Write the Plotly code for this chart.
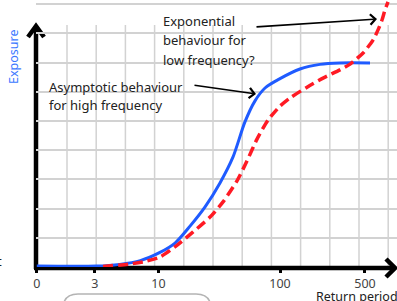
import plotly.graph_objects as go

# ---- data ----
blue_period = [1, 3.1, 4.8, 7.1, 10.3, 13.7, 18.2, 24.2, 32.1, 41.1, 51.5, 62.3, 75.3, 100, 146, 213, 311, 550]
blue_exposure = [0.03, 0.03, 0.09, 0.22, 0.50, 0.82, 1.40, 2.06, 2.88, 3.77, 4.97, 5.69, 6.13, 6.45, 6.78, 6.94, 6.99, 6.99]

red_period = [3.5, 5.8, 7.8, 10.3, 14.2, 19.3, 26.6, 34.0, 44.3, 53.5, 64.7, 79.7, 100, 121, 167, 226, 311, 377, 482, 582, 640, 690, 730, 773]
red_exposure = [0.02, 0.10, 0.19, 0.34, 0.74, 1.20, 1.71, 2.23, 2.95, 3.63, 4.38, 5.03, 5.51, 5.79, 6.16, 6.47, 6.75, 6.95, 7.33, 7.77, 8.12, 8.46, 8.80, 9.08]

tick_vals = [1, 3, 10, 100, 500]
tick_text = ["0", "3", "10", "100", "500"]

# ---- layout geometry ----
W, H = 397, 301
ML, MB = 36, 34
PW, PH = W - ML, H - MB


def xp(px):
    return (px - ML) / PW


def yp(py):
    return (PH - py) / PH


FONT = "Noto Sans"
TXT = "#222222"

fig = go.Figure()
fig.add_trace(go.Scatter(x=blue_period, y=blue_exposure, mode="lines",
                         line=dict(color="#1f5bff", width=3, shape="spline", smoothing=0.8),
                         hoverinfo="skip", showlegend=False))
fig.add_trace(go.Scatter(x=red_period, y=red_exposure, mode="lines",
                         line=dict(color="#ff1a24", width=3.5, dash="10px,5px", shape="spline", smoothing=0.6),
                         hoverinfo="skip", showlegend=False))

shapes = []
# vertical grid lines (evenly spaced, independent of the log scale)
for k in range(12):
    px = 67 + 29.2 * k
    shapes.append(dict(type="line", xref="paper", yref="paper",
                       x0=xp(px), x1=xp(px), y0=yp(25), y1=yp(267),
                       line=dict(color="#d2d2d2", width=1.5), layer="below"))
# axes with chevron arrowheads
ax_style = dict(color="black", width=4.5)
shapes.append(dict(type="line", xref="paper", yref="paper", x0=xp(36), x1=xp(36), y0=yp(269), y1=yp(27),
                   line=ax_style, layer="between"))
shapes.append(dict(type="path", xref="paper", yref="paper",
                   path=f"M {xp(28)},{yp(37)} L {xp(36)},{yp(26)} L {xp(44)},{yp(37)}",
                   line=ax_style, layer="between"))
shapes.append(dict(type="line", xref="paper", yref="paper", x0=xp(34), x1=xp(394), y0=yp(268), y1=yp(268),
                   line=ax_style, layer="between"))
shapes.append(dict(type="path", xref="paper", yref="paper",
                   path=f"M {xp(386)},{yp(259)} L {xp(395)},{yp(268)} L {xp(386)},{yp(277)}",
                   line=ax_style, layer="between"))
# rounded box cut by the bottom edge
shapes.append(dict(type="path", xref="paper", yref="paper",
                   path=(f"M {xp(63)},{yp(316)} L {xp(63)},{yp(309)} Q {xp(63)},{yp(294)} {xp(78)},{yp(294)} "
                         f"L {xp(196)},{yp(294)} Q {xp(211)},{yp(294)} {xp(211)},{yp(309)} L {xp(211)},{yp(316)}"),
                   line=dict(color="#b4b4b4", width=1.5), layer="above"))

annotations = []


def text_ann(s, px, py, size=13, color=TXT, anchor="left", angle=0):
    annotations.append(dict(text=s, xref="paper", yref="paper", x=xp(px), y=yp(py),
                            xanchor=anchor, yanchor="middle", showarrow=False, textangle=angle,
                            font=dict(family=FONT, size=size, color=color)))


text_ann("Exponential", 161, 21)
text_ann("behaviour for", 161, 40)
text_ann("low frequency?", 161, 59.5)
text_ann("Asymptotic behaviour", 47, 86.5)
text_ann("for high frequency", 47, 105)
text_ann("Return period", 314, 296.5, size=12.5)
text_ann("Exposure", 14, 57, size=12.5, color="#3b78ff", anchor="center", angle=-90)
text_ann("t", -5.5, 261, size=13)

# pointer arrows
annotations.append(dict(text="", xref="paper", yref="paper", x=xp(377), y=yp(19), ax=-122, ay=8,
                        showarrow=True, arrowhead=4, arrowsize=1.25, arrowwidth=1.6, arrowcolor="black", standoff=0))
annotations.append(dict(text="", xref="paper", yref="paper", x=xp(256), y=yp(94), ax=-63, ay=-9,
                        showarrow=True, arrowhead=4, arrowsize=1.25, arrowwidth=1.6, arrowcolor="black", standoff=0))

fig.update_layout(
    width=W, height=H,
    margin=dict(l=ML, r=0, t=0, b=MB, pad=0),
    paper_bgcolor="white", plot_bgcolor="white",
    shapes=shapes, annotations=annotations,
    xaxis=dict(type="log", range=[-0.00658, 2.9622], showgrid=False, zeroline=False, showline=False,
               tickmode="array", tickvals=tick_vals, ticktext=tick_text,
               ticks="outside", ticklen=5, tickwidth=3, tickcolor="black",
               tickfont=dict(family=FONT, size=12.5, color="#444444"), fixedrange=True),
    yaxis=dict(range=[0, 9.144], showgrid=True, gridcolor="#d2d2d2", gridwidth=1.5,
               tick0=0, dtick=1, zeroline=False, showline=False, showticklabels=False, ticks="",
               fixedrange=True),
)

fig.write_html("out.html", config={"displayModeBar": False},
               post_script="document.body.style.margin='0';document.body.style.overflow='hidden';")
